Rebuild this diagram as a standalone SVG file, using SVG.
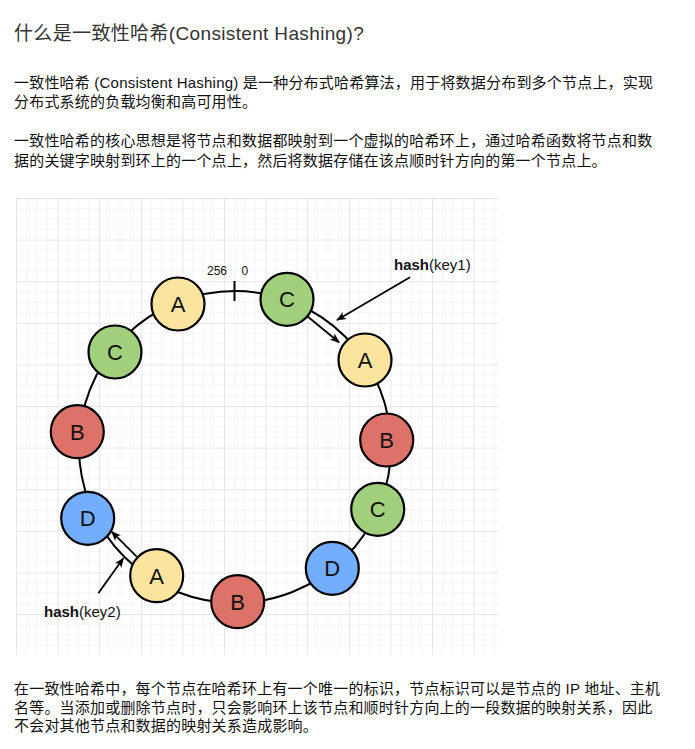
<svg xmlns="http://www.w3.org/2000/svg" width="695" height="749" viewBox="0 0 695 749">
<style>
  .t { font-family: 'Liberation Sans', 'Noto Sans CJK SC', sans-serif; }
  .title { font-size: 19px; fill: #333; letter-spacing: 0.35px; }
  .p { font-size: 15px; fill: #111; letter-spacing: 0.2px; }
  .node { stroke: #000; stroke-width: 2.2; }
  .lbl { font-family: 'Liberation Sans', Arial, sans-serif; font-size: 22px; fill: #111; text-anchor: middle; }
  .ring { fill: none; stroke: #000; stroke-width: 2; }
  .arr { fill: none; stroke: #000; stroke-width: 1.8; marker-end: url(#ah); }
  .small { font-family: 'Liberation Sans', Arial, sans-serif; fill: #111; }
  .A { fill: #FAE49E; }
  .B { fill: #DD7268; }
  .C { fill: #A1CF7C; }
  .D { fill: #72AEFC; }
</style>
<defs>
  <pattern id="grid" patternUnits="userSpaceOnUse" x="16" y="198" width="41.6" height="41.6">
    <path d="M10.4,0V41.6M20.8,0V41.6M31.2,0V41.6M0,10.4H41.6M0,20.8H41.6M0,31.2H41.6" stroke="#f4f4f4" stroke-width="1" fill="none"/>
    <path d="M0.5,0V41.6M0,0.5H41.6" stroke="#e6e6e6" stroke-width="1" fill="none"/>
  </pattern>
  <marker id="ah" viewBox="0 0 10 8" refX="9" refY="4" markerWidth="10" markerHeight="8" markerUnits="userSpaceOnUse" orient="auto">
    <path d="M0,0 L10,4 L0,8 L2.5,4 z" fill="#000"/>
  </marker>
</defs>
<rect width="695" height="749" fill="#fff"/>

<text class="t title" x="14" y="40">什么是一致性哈希(Consistent Hashing)?</text>

<text class="t p" x="14" y="88">一致性哈希 (Consistent Hashing) 是一种分布式哈希算法，用于将数据分布到多个节点上，实现</text>
<text class="t p" x="14" y="107">分布式系统的负载均衡和高可用性。</text>

<text class="t p" x="14" y="146">一致性哈希的核心思想是将节点和数据都映射到一个虚拟的哈希环上，通过哈希函数将节点和数</text>
<text class="t p" x="14" y="166">据的关键字映射到环上的一个点上，然后将数据存储在该点顺时针方向的第一个节点上。</text>

<rect x="16" y="198" width="482" height="457" fill="url(#grid)"/>

<g id="connectors">
  <circle class="ring" cx="235" cy="447" r="156"/>
  <line x1="234.5" y1="281" x2="234.5" y2="301" stroke="#000" stroke-width="2"/>
  <line class="arr" x1="306.7" y1="315.7" x2="339" y2="342.3"/>
  <line class="arr" x1="410" y1="277.3" x2="337" y2="320"/>
  <line class="arr" x1="136.7" y1="556.7" x2="111.7" y2="531.7"/>
  <line class="arr" x1="98.3" y1="593.3" x2="123.3" y2="558.3"/>
</g>

<g id="labels">
  <text class="small" x="207" y="275" font-size="12">256</text>
  <text class="small" x="241.5" y="275" font-size="12">0</text>
  <text class="small" x="394" y="270" font-size="15"><tspan font-weight="bold">hash</tspan>(key1)</text>
  <text class="small" x="44" y="616.5" font-size="15"><tspan font-weight="bold">hash</tspan>(key2)</text>
</g>

<g id="node-a1"><circle class="node A" cx="178" cy="304" r="26.5"/><text class="lbl" x="178" y="312">A</text></g>
<g id="node-c1"><circle class="node C" cx="287" cy="299.3" r="26.5"/><text class="lbl" x="287" y="307.3">C</text></g>
<g id="node-a2"><circle class="node A" cx="365" cy="360" r="26.5"/><text class="lbl" x="365" y="368">A</text></g>
<g id="node-b1"><circle class="node B" cx="386.7" cy="440" r="26.5"/><text class="lbl" x="386.7" y="448">B</text></g>
<g id="node-c2"><circle class="node C" cx="377.7" cy="509.3" r="26.5"/><text class="lbl" x="377.7" y="517.3">C</text></g>
<g id="node-d1"><circle class="node D" cx="332.3" cy="568.3" r="26.5"/><text class="lbl" x="332.3" y="576.3">D</text></g>
<g id="node-b2"><circle class="node B" cx="237.7" cy="601.7" r="26.5"/><text class="lbl" x="237.7" y="609.7">B</text></g>
<g id="node-a3"><circle class="node A" cx="156.7" cy="575.7" r="26.5"/><text class="lbl" x="156.7" y="583.7">A</text></g>
<g id="node-d2"><circle class="node D" cx="87.7" cy="518.3" r="26.5"/><text class="lbl" x="87.7" y="526.3">D</text></g>
<g id="node-b3"><circle class="node B" cx="77.3" cy="431.7" r="26.5"/><text class="lbl" x="77.3" y="439.7">B</text></g>
<g id="node-c3"><circle class="node C" cx="115" cy="352" r="26.5"/><text class="lbl" x="115" y="360">C</text></g>

<text class="t p" x="14" y="694">在一致性哈希中，每个节点在哈希环上有一个唯一的标识，节点标识可以是节点的 IP 地址、主机</text>
<text class="t p" x="14" y="713">名等。当添加或删除节点时，只会影响环上该节点和顺时针方向上的一段数据的映射关系，因此</text>
<text class="t p" x="14" y="731">不会对其他节点和数据的映射关系造成影响。</text>
</svg>
